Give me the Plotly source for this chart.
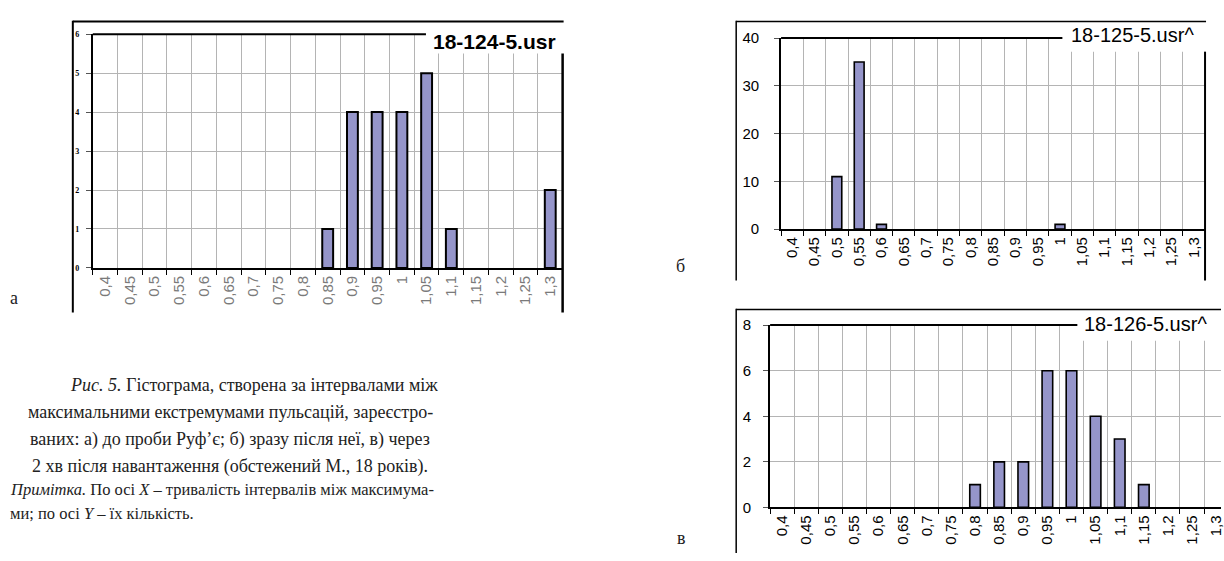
import plotly.graph_objects as go

W, H = 1224, 561

# interval durations (s), shared by all three histograms
categories = ["0,4", "0,45", "0,5", "0,55", "0,6", "0,65", "0,7", "0,75", "0,8", "0,85",
              "0,9", "0,95", "1", "1,05", "1,1", "1,15", "1,2", "1,25", "1,3"]

counts_a = [0, 0, 0, 0, 0, 0, 0, 0, 0, 1, 4, 4, 4, 5, 1, 0, 0, 0, 2]
counts_b = [0, 0, 11, 35, 1, 0, 0, 0, 0, 0, 0, 0, 1, 0, 0, 0, 0, 0, 0]
counts_v = [0, 0, 0, 0, 0, 0, 0, 0, 1, 2, 2, 6, 6, 4, 3, 1, 0, 0, 0]

titles = ["18-124-5.usr", "18-125-5.usr^", "18-126-5.usr^"]
y_ticks_a = [0, 1, 2, 3, 4, 5, 6]
y_ticks_b = [0, 10, 20, 30, 40]
y_ticks_v = [0, 2, 4, 6, 8]

caption_lines = [
    "<i>Рис. 5.</i> Гістограма, створена за інтервалами між",
    "максимальними екстремумами пульсацій, зареєстро-",
    "ваних: а) до проби Руф’є; б) зразу після неї, в) через",
    "2 хв після навантаження (обстежений М., 18 років).",
]
note_lines = [
    "<i>Примітка.</i> По осі <i>X</i> – тривалість інтервалів між максимума-",
    "ми; по осі <i>Y</i> – їх кількість.",
]
panel_letters = ["а", "б", "в"]

BAR_FILL = "#9595ca"
GRID = "#b4b4b4"


def px(x):
    return x / W


def py(y):
    return 1 - y / H


fig = go.Figure()

for i, (vals, lw) in enumerate([(counts_a, 2), (counts_b, 1.6), (counts_v, 1.6)], start=1):
    # empty bins are left blank rather than drawn as flat outlined bars
    fig.add_trace(go.Bar(
        x=categories, y=[v if v else None for v in vals],
        xaxis="x" if i == 1 else f"x{i}",
        yaxis="y" if i == 1 else f"y{i}",
        marker=dict(color=BAR_FILL, line=dict(color="black", width=lw)),
        hoverinfo="skip",
    ))


def xaxis_cfg(domain, anchor, font, rng):
    return dict(
        domain=domain, anchor=anchor, type="category",
        categoryorder="array", categoryarray=categories, range=rng,
        tickson="boundaries", ticks="outside", ticklen=5, tickwidth=1,
        tickcolor="black", tickangle=-90, tickfont=font,
        showgrid=True, gridcolor=GRID, gridwidth=1,
        showline=True, linecolor="black", linewidth=2, zeroline=False,
        fixedrange=True,
    )


def yaxis_cfg(domain, anchor, ticks, font, standoff):
    return dict(
        domain=domain, anchor=anchor, range=[0, ticks[-1]],
        tickmode="array", tickvals=ticks,
        ticks="outside", ticklen=5, tickwidth=1, tickcolor="#555555",
        tickfont=font, ticklabelstandoff=standoff,
        showgrid=True, gridcolor=GRID, gridwidth=1,
        showline=True, linecolor="black", linewidth=2, zeroline=False,
        fixedrange=True,
    )


v_right = -0.5 + (W - 772) / 24.17

fig.update_layout(
    width=W, height=H,
    margin=dict(l=0, r=0, t=0, b=0),
    paper_bgcolor="white", plot_bgcolor="white",
    showlegend=False, bargap=0.56,
    xaxis=xaxis_cfg([px(93), px(564)], "y",
                    dict(family="Arial", size=15, color="#7a7a7a"), [-0.5, 18.5]),
    yaxis=yaxis_cfg([py(267), py(26)], "x", y_ticks_a,
                    dict(family="Liberation Serif", size=8, color="black", weight="bold"), 5),
    xaxis2=xaxis_cfg([px(783), px(1208)], "y2",
                     dict(family="Arial", size=15, color="black"), [-0.5, 18.5]),
    yaxis2=yaxis_cfg([py(227), py(30)], "x2", y_ticks_b,
                     dict(family="Arial", size=15, color="black"), 12),
    xaxis3=xaxis_cfg([px(772), 1.0], "y3",
                     dict(family="Arial", size=15, color="black"), [-0.5, v_right]),
    yaxis3=yaxis_cfg([py(514), py(326)], "x3", y_ticks_v,
                     dict(family="Arial", size=15, color="black"), 9),
)

shapes = []


def hline(x0, x1, y, w):
    shapes.append(dict(type="line", xref="paper", yref="paper",
                       x0=px(x0), x1=px(x1), y0=py(y), y1=py(y),
                       line=dict(color="black", width=w), layer="above"))


def vline(x, y0, y1, w):
    shapes.append(dict(type="line", xref="paper", yref="paper",
                       x0=px(x), x1=px(x), y0=py(y0), y1=py(y1),
                       line=dict(color="black", width=w), layer="above"))


def white_box(x0, x1, y0, y1):
    shapes.append(dict(type="rect", xref="paper", yref="paper",
                       x0=px(x0), x1=px(x1), y0=py(y1), y1=py(y0),
                       fillcolor="white", line=dict(width=0), layer="above"))


# panel а
white_box(427, 563, 15, 46)
hline(73, 565, 13, 2)
vline(73, 12, 313, 2)
vline(564, 46, 313, 2.5)
hline(93, 427, 26, 2)

# panel б
white_box(1065, 1207, 15, 44)
hline(738, 1209, 13, 1.5)
vline(738, 12, 280, 1.5)
vline(1208, 44, 280, 2)
hline(783, 1065, 30, 2)

# panel в
white_box(1080, 1224, 312, 342)
hline(738, 1224, 310, 1.5)
vline(738, 309, 561, 1.5)
hline(772, 1080, 326, 2)

fig.update_layout(shapes=shapes)

ann = []
ann.append(dict(text=f"<b>{titles[0]}</b>", x=px(432), y=py(33), xanchor="left", yanchor="middle",
                font=dict(family="Arial", size=21, color="black")))
ann.append(dict(text=titles[1], x=px(1072), y=py(27), xanchor="left", yanchor="middle",
                font=dict(family="Arial", size=20, color="black")))
ann.append(dict(text=titles[2], x=px(1085), y=py(325), xanchor="left", yanchor="middle",
                font=dict(family="Arial", size=20, color="black")))

serif = "Liberation Serif"
cap_y = [388, 416, 444, 472]
for j, line in enumerate(caption_lines):
    if j == 0:
        ann.append(dict(text=line, x=px(441), y=py(cap_y[j]), xanchor="right", yanchor="middle",
                        font=dict(family=serif, size=18, color="#222222")))
    else:
        ann.append(dict(text=line, x=px(231), y=py(cap_y[j]), xanchor="center", yanchor="middle",
                        font=dict(family=serif, size=18, color="#222222")))
for j, line in enumerate(note_lines):
    ann.append(dict(text=line, x=px(8), y=py(496 + 24 * j), xanchor="left", yanchor="middle",
                    font=dict(family=serif, size=16.5, color="#222222")))

for letter, (lx, ly) in zip(panel_letters, [(14, 298), (682, 265), (683, 546)]):
    ann.append(dict(text=letter, x=px(lx), y=py(ly), xanchor="center", yanchor="middle",
                    font=dict(family=serif, size=18, color="#222222")))

for a in ann:
    a.update(xref="paper", yref="paper", showarrow=False)
fig.update_layout(annotations=ann)

fig.write_html("out.html")
